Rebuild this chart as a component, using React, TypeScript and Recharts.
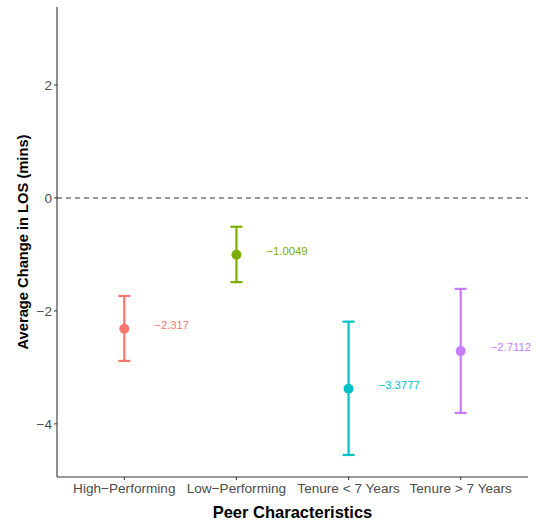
import React from "react";
import {
  ScatterChart,
  Scatter,
  XAxis,
  YAxis,
  ErrorBar,
  ReferenceLine,
  LabelList,
  Label,
} from "recharts";

const categories = ["High−Performing", "Low−Performing", "Tenure < 7 Years", "Tenure > 7 Years"];
const means = [-2.317, -1.0049, -3.3777, -2.7112];
const lowers = [-2.885, -1.49, -4.55, -3.805];
const uppers = [-1.735, -0.51, -2.19, -1.61];
const meanLabels = ["−2.317", "−1.0049", "−3.3777", "−2.7112"];
const colors = ["#F8766D", "#7CAE00", "#00BFC4", "#C77CFF"];
const yTicks = [-4, -2, 0, 2];

const FONT = "'Liberation Sans', Arial, Helvetica, sans-serif";

const rows = categories.map((c, i) => ({
  x: i + 1,
  y: means[i],
  err: [means[i] - lowers[i], uppers[i] - means[i]],
  label: meanLabels[i],
}));

const fmtMinus = (v: number) => (v < 0 ? "−" + Math.abs(v) : String(v));

export default function App() {
  return (
    <div style={{ position: "absolute", left: 0, top: 0 }}>
      <ScatterChart
        width={536}
        height={525}
        margin={{ top: 7, right: 8, left: 0, bottom: 0 }}
        style={{ fontFamily: FONT }}
      >
        <XAxis
          type="number"
          dataKey="x"
          domain={[0.4, 4.6]}
          ticks={[1, 2, 3, 4]}
          tickFormatter={(v: number) => categories[v - 1]}
          height={48}
          tickSize={3}
          tickMargin={3}
          stroke="#333333"
          tick={{ fill: "#4d4d4d", fontSize: 13.6, fontFamily: FONT }}
          axisLine={{ stroke: "#333333", strokeWidth: 1.1 }}
          tickLine={{ stroke: "#333333" }}
          allowDataOverflow
        >
          <Label
            content={(p: any) => {
              const vb = p.viewBox;
              return (
                <text
                  x={vb.x + vb.width / 2}
                  y={518}
                  textAnchor="middle"
                  fontSize={16.5}
                  fontWeight="bold"
                  fill="#000"
                  fontFamily={FONT}
                >
                  Peer Characteristics
                </text>
              );
            }}
          />
        </XAxis>
        <YAxis
          type="number"
          dataKey="y"
          domain={[-4.94, 3.38]}
          ticks={yTicks}
          tickFormatter={fmtMinus}
          width={57}
          tickSize={3}
          tickMargin={2}
          stroke="#333333"
          tick={{ fill: "#4d4d4d", fontSize: 13.6, fontFamily: FONT }}
          axisLine={{ stroke: "#333333", strokeWidth: 1.1 }}
          tickLine={{ stroke: "#333333" }}
          allowDataOverflow
        >
          <Label
            content={(p: any) => {
              const vb = p.viewBox;
              const cy = vb.y + vb.height / 2;
              return (
                <text
                  x={23}
                  y={cy}
                  transform={`rotate(-90, 23, ${cy})`}
                  textAnchor="middle"
                  dominantBaseline="central"
                  fontSize={14.7}
                  fontWeight="bold"
                  fill="#000"
                  fontFamily={FONT}
                >
                  Average Change in LOS (mins)
                </text>
              );
            }}
          />
        </YAxis>
        <ReferenceLine y={0} stroke="#333333" strokeDasharray="5 4" strokeWidth={1.1} />
        {rows.map((r, i) => (
          <Scatter
            key={categories[i]}
            data={[r]}
            fill={colors[i]}
            isAnimationActive={false}
            shape={(p: any) => <circle cx={p.cx} cy={p.cy} r={5} fill={colors[i]} />}
          >
            <ErrorBar
              dataKey="err"
              direction="y"
              width={6}
              stroke={colors[i]}
              strokeWidth={2.2}
              isAnimationActive={false}
            />
            <LabelList
              dataKey="label"
              content={(p: any) => (
                <text
                  x={p.x + p.width / 2 + 30}
                  y={p.y + p.height / 2 - 4}
                  textAnchor="start"
                  dominantBaseline="central"
                  fontSize={11.3}
                  fill={colors[i]}
                  fontFamily={FONT}
                >
                  {p.value}
                </text>
              )}
            />
          </Scatter>
        ))}
      </ScatterChart>
    </div>
  );
}
